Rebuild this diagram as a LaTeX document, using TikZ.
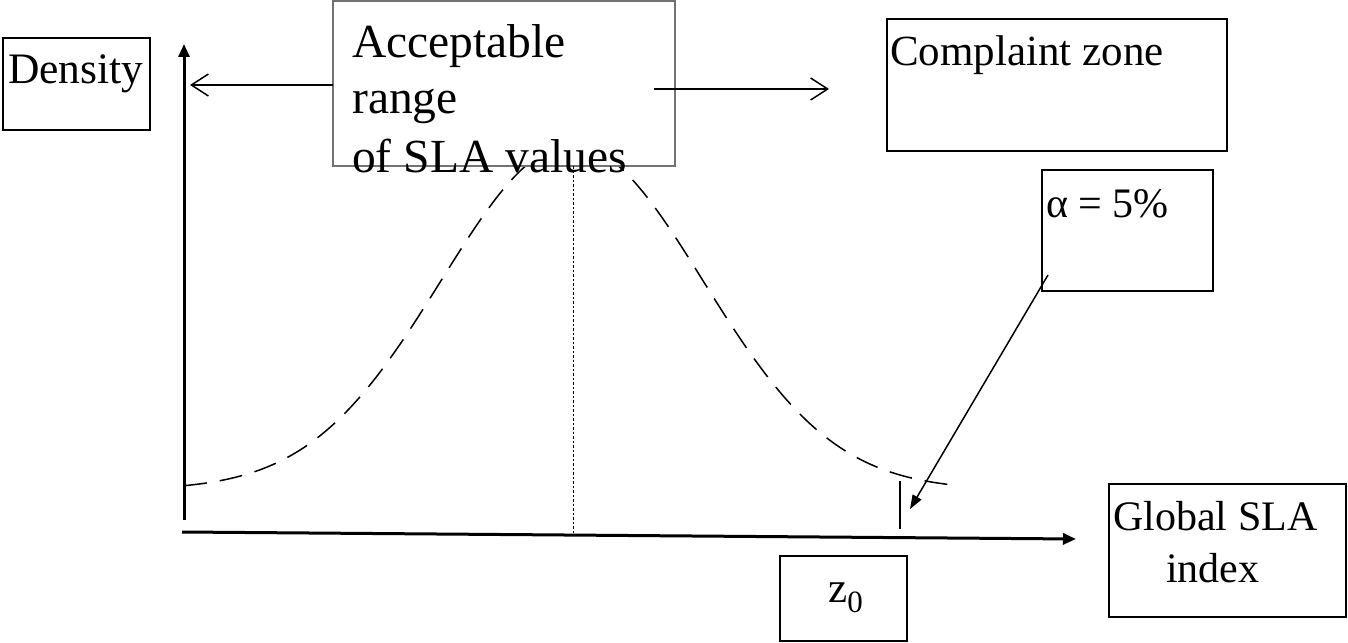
\documentclass[tikz,border=0pt]{standalone}
\usepackage{fontspec}
\setmainfont{Liberation Serif}
\usetikzlibrary{arrows,arrows.meta,positioning}

\begin{document}
\begin{tikzpicture}[x=1pt,y=-1pt,>={Straight Barb[length=17pt,width=22pt]},
  box/.style={draw,line width=1.6pt,fill=white,inner sep=0pt,outer sep=0pt,anchor=north west},
  txt/.style={anchor=base west,inner sep=0pt,font=\fontsize{42}{57}\selectfont},
  thinline/.style={line width=1.5pt},
  axis/.style={line width=3pt,-{Triangle[length=13pt,width=11pt]}}]
  \useasboundingbox (0,0) rectangle (1348,642);
  % density curve
  \draw[thinline,dash pattern=on 23pt off 13pt]
    plot[domain=184:955,samples=90,smooth] (\x,{490-345*exp(-((\x-572)/131)^2/2)});
  % axes
  \coordinate (ybot) at (184,520);
  \coordinate (ytop) at (184,44);
  \coordinate (xbot) at (182,532);
  \coordinate (xtip) at (1076,539);
  \coordinate (mid)  at (573,533);
  \draw[axis] (ybot) -- (ytop);
  \draw[axis] (xbot) -- (xtip);
  % boxes
  \node[box,draw=black!55,line width=1.3pt,minimum width=342pt,minimum height=165pt] (acc) at (333,1) {};
  \draw[line width=1pt,dash pattern=on 2.5pt off 2pt] (acc.south -| mid) -- (mid);
  \node[box,minimum width=147pt,minimum height=92pt]  (dens)  at (3,38)    {};
  \node[box,minimum width=340pt,minimum height=132pt] (comp)  at (887,19)  {};
  \node[box,minimum width=171pt,minimum height=121pt] (alpha) at (1042,170) {};
  \node[box,minimum width=127pt,minimum height=85pt]  (zbox)  at (780,556) {};
  \node[box,minimum width=237pt,minimum height=133pt] (glob)  at (1109,484) {};
  % texts
  \node[txt,font=\fontsize{47.5}{57}\selectfont] (acc1) at (352,57)  {Acceptable};
  \node[txt,font=\fontsize{47.5}{57}\selectfont] (acc2) at (352,113) {range};
  \node[txt,font=\fontsize{47.5}{57}\selectfont] (acc3) at (352,172) {of SLA values};
  \node[txt,font=\fontsize{43.5}{50}\selectfont] (denst) at (8,83)   {Density};
  \node[txt,font=\fontsize{43}{50}\selectfont] (compt) at (890,65) {Complaint zone};
  \node[txt] (alphat) at (1046,217) {α = 5\%};
  \node[txt] (glob1)  at (1113,530) {Global SLA};
  \node[txt] (glob2)  at (1166,582) {index};
  \node[txt,font=\fontsize{43}{45}\selectfont] (zt) at (828,602)
    {z\raisebox{-10pt}{\fontsize{31}{32}\selectfont 0}};
  % arrows
  \coordinate (dtip) at (190,85);
  \coordinate (ctail) at (654,89);
  \coordinate (ctip) at (829,89);
  \coordinate (ztop) at (900,481);
  \coordinate (zfoot) at (900,529);
  \coordinate (atip) at (910,509);
  \draw[thinline,->] (acc.west |- dtip) -- (dtip);
  \draw[thinline,->] (ctail) -- (ctip);
  \draw[thinline] (ztop) -- (zfoot);
  \draw[thinline,-{Triangle[length=14pt,width=10pt]}]
    ([shift={(6,-16)}]alpha.south west) -- (atip);
\end{tikzpicture}
\end{document}
